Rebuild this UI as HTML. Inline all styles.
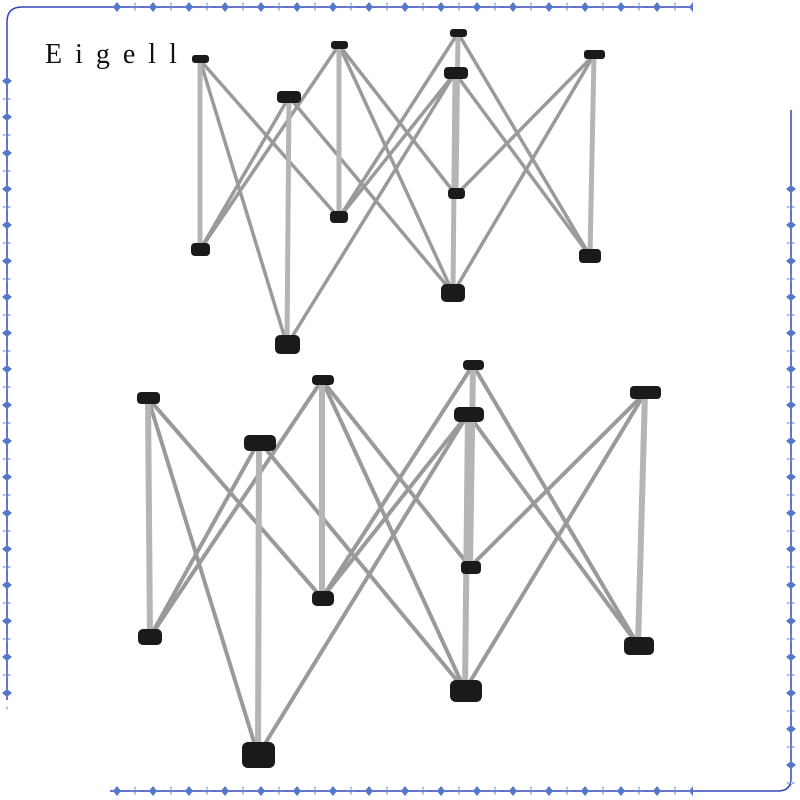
<!DOCTYPE html>
<html><head><style>
html,body{margin:0;padding:0;background:#fff;}
svg{display:block;}
</style></head><body>
<svg width="800" height="800" viewBox="0 0 800 800" xmlns="http://www.w3.org/2000/svg">
<defs>
<pattern id="pt" x="0" y="1" width="36" height="12" patternUnits="userSpaceOnUse">
<path d="M9 1 L13 6 L9 11 L5 6Z" fill="#5577cc"/>
<path d="M27 2 V10 M23 6 H31" stroke="#5577cc" stroke-width="1.2" stroke-dasharray="1.5 1"/>
</pattern>
<pattern id="pb" x="0" y="785" width="36" height="12" patternUnits="userSpaceOnUse">
<path d="M9 1 L13 6 L9 11 L5 6Z" fill="#5577cc"/>
<path d="M27 2 V10 M23 6 H31" stroke="#5577cc" stroke-width="1.2" stroke-dasharray="1.5 1"/>
</pattern>
<pattern id="pl" x="1" y="0" width="12" height="36" patternUnits="userSpaceOnUse">
<path d="M1 9 L6 5 L11 9 L6 13Z" fill="#5577cc"/>
<path d="M2 27 H10 M6 23 V31" stroke="#5577cc" stroke-width="1.2" stroke-dasharray="1.5 1"/>
</pattern>
<pattern id="pr" x="785" y="0" width="12" height="36" patternUnits="userSpaceOnUse">
<path d="M1 9 L6 5 L11 9 L6 13Z" fill="#5577cc"/>
<path d="M2 27 H10 M6 23 V31" stroke="#5577cc" stroke-width="1.2" stroke-dasharray="1.5 1"/>
</pattern>
</defs>
<g fill="none" stroke="#3344bb" stroke-width="1.5">
<path d="M7 700 V22 Q7 7 22 7 H692"/>
<path d="M110 791 H778 Q791 791 791 778 V110"/>
</g>
<rect x="108" y="1" width="585" height="12" fill="url(#pt)"/>
<rect x="108" y="785" width="585" height="12" fill="url(#pb)"/>
<rect x="1" y="70" width="12" height="640" fill="url(#pl)"/>
<rect x="785" y="178" width="12" height="610" fill="url(#pr)"/>
<text x="45" y="63" font-family="Liberation Serif, serif" font-size="28" letter-spacing="13" fill="#111">Eigell</text>

<g stroke="#9a9a9a" stroke-width="3.5" stroke-linecap="round">
<path d="M200 60 L287 345 M289 97 L200 250"/>
<path d="M289 97 L453 293 M455 73 L287 345"/>
<path d="M455 73 L590 256 M594 55 L453 293"/>
<path d="M200 60 L339 218 M339 45 L200 250"/>
<path d="M339 45 L456 195 M458 33 L339 218"/>
<path d="M458 33 L590 256 M594 55 L456 195"/>
<path d="M339 45 L453 293 M455 73 L339 218"/>
</g>
<g stroke="#b5b5b5" stroke-width="5" stroke-linecap="round">
<path d="M200 60 V250 M339 45 V218 M458 33 L456 195 M594 55 L590 256 M289 97 L287 345 M455 73 L453 293"/>
</g>
<g fill="#1a1a1a">
<rect x="192" y="55" width="17" height="8" rx="3"/><rect x="331" y="41" width="17" height="8" rx="3"/>
<rect x="450" y="29" width="17" height="8" rx="3"/><rect x="584" y="50" width="21" height="9" rx="3"/>
<rect x="277" y="91" width="24" height="12" rx="4"/><rect x="444" y="67" width="24" height="12" rx="4"/>
<rect x="191" y="243" width="19" height="13" rx="4"/><rect x="330" y="211" width="18" height="12" rx="4"/>
<rect x="448" y="188" width="17" height="11" rx="4"/><rect x="579" y="249" width="22" height="14" rx="4"/>
<rect x="275" y="335" width="25" height="19" rx="5"/><rect x="441" y="284" width="24" height="18" rx="5"/>
</g>

<g stroke="#9a9a9a" stroke-width="4" stroke-linecap="round">
<path d="M148 398 L258 755 M259 441 L150 637"/>
<path d="M259 441 L465 690 M468 414 L258 755"/>
<path d="M468 414 L638 645 M645 393 L465 690"/>
<path d="M148 398 L322 598 M322 380 L150 637"/>
<path d="M322 380 L470 567 M473 365 L322 598"/>
<path d="M473 365 L638 645 M645 393 L470 567"/>
<path d="M322 380 L465 690 M468 414 L322 598"/>
</g>
<g stroke="#b5b5b5" stroke-width="6" stroke-linecap="round">
<path d="M148 398 L150 637 M322 380 V598 M473 365 L470 567 M645 393 L638 645 M259 441 L258 755 M468 414 L465 690"/>
</g>
<g fill="#1a1a1a">
<rect x="137" y="392" width="23" height="12" rx="4"/><rect x="312" y="375" width="22" height="10" rx="4"/>
<rect x="463" y="360" width="21" height="10" rx="4"/><rect x="630" y="386" width="31" height="13" rx="4"/>
<rect x="244" y="435" width="32" height="16" rx="5"/><rect x="454" y="407" width="30" height="15" rx="5"/>
<rect x="138" y="629" width="24" height="16" rx="5"/><rect x="312" y="591" width="22" height="15" rx="5"/>
<rect x="461" y="561" width="20" height="13" rx="4"/><rect x="624" y="637" width="30" height="18" rx="5"/>
<rect x="242" y="742" width="33" height="26" rx="6"/><rect x="450" y="680" width="32" height="22" rx="6"/>
</g>
</svg>
</body></html>
